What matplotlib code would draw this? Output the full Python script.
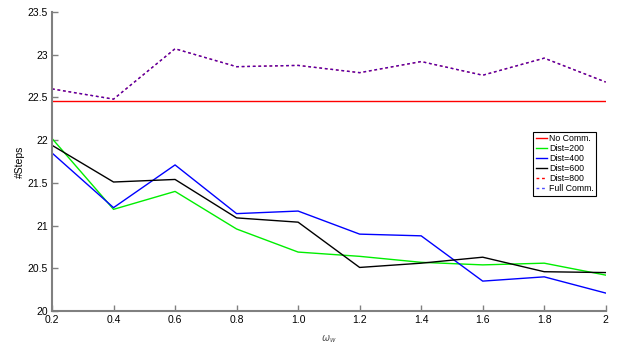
import numpy as np
import matplotlib
matplotlib.use('Agg')
import matplotlib.pyplot as plt

plt.rcParams['font.family'] = ['Liberation Sans', 'DejaVu Sans']

# 数据
w = [0.2, 0.4, 0.6, 0.8, 1.0, 1.2, 1.4, 1.6, 1.8, 2.0]
no_comm = [22.46] * 10
dist200 = [22.02, 21.19, 21.40, 20.96, 20.69, 20.64, 20.57, 20.54, 20.56, 20.42]
dist400 = [21.85, 21.21, 21.71, 21.14, 21.17, 20.90, 20.88, 20.35, 20.40, 20.21]
dist600 = [21.94, 21.51, 21.54, 21.09, 21.04, 20.51, 20.56, 20.63, 20.46, 20.45]
dist800 = [22.60, 22.48, 23.07, 22.86, 22.875, 22.79, 22.92, 22.76, 22.96, 22.68]
full_comm = [22.60, 22.48, 23.07, 22.86, 22.875, 22.79, 22.92, 22.76, 22.96, 22.68]
xtick_labels = ['0.2', '0.4', '0.6', '0.8', '1.0', '1.2', '1.4', '1.6', '1.8', '2']

fig = plt.figure(figsize=(6.31, 3.47), dpi=100)
ax = fig.add_axes([0.0824, 0.1037, 0.8776, 0.8617])

ax.plot(w, no_comm, color='red', lw=1, label='No Comm.')
ax.plot(w, dist200, color='#00ee00', lw=1, label='Dist=200')
ax.plot(w, dist400, color='blue', lw=1, label='Dist=400')
ax.plot(w, dist600, color='black', lw=1, label='Dist=600')
ax.plot(w, dist800, color='red', lw=1, dashes=(2, 2), label='Dist=800')
ax.plot(w, full_comm, color='blue', lw=1, dashes=(2, 2), dash_capstyle='butt',
        label='Full Comm.', alpha=0.7)

ax.set_xlim(0.2, 2.0)
ax.set_ylim(20, 23.5)
ax.set_xticks(w)
ax.set_xticklabels(xtick_labels)
ax.set_yticks(np.arange(20, 23.51, 0.5))
ax.set_yticklabels(['20', '20.5', '21', '21.5', '22', '22.5', '23', '23.5'])
ax.tick_params(direction='in', length=4, width=1, color='#808080', labelsize=7.5, pad=3)

for s in ['top', 'right']:
    ax.spines[s].set_visible(False)
for s in ['left', 'bottom']:
    ax.spines[s].set_color('#808080')
    ax.spines[s].set_linewidth(1.5)

ax.set_xlabel(r'$\omega_w$', fontsize=7, color='#555555', labelpad=6)
ax.set_ylabel('#Steps', fontsize=7.5, labelpad=2)

leg = ax.legend(loc='upper left', bbox_to_anchor=(0.869, 0.6), fontsize=6.3,
                handlelength=1.3, handletextpad=0.2, borderpad=0.3,
                labelspacing=0.12, borderaxespad=0, fancybox=False, framealpha=1)
leg.get_frame().set_edgecolor('black')
leg.get_frame().set_linewidth(0.8)

fig.savefig('out.png', dpi=100)
